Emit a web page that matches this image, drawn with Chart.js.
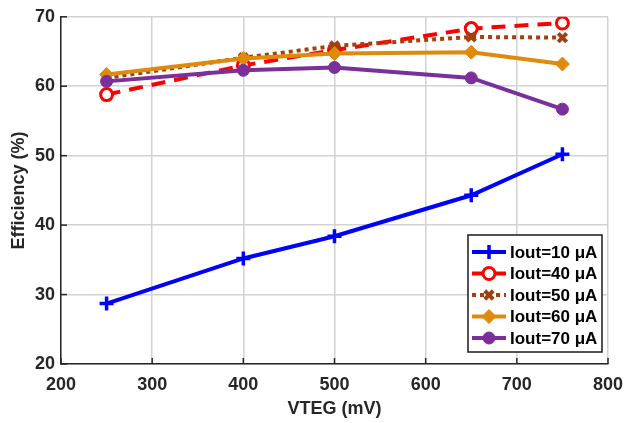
<!DOCTYPE html>
<html>
<head>
<meta charset="utf-8">
<script src="https://cdn.jsdelivr.net/npm/chart.js@4.4.1/dist/chart.umd.min.js"></script>
<style>
  html, body { margin: 0; padding: 0; background: #fff; }
  #wrap { position: relative; width: 626px; height: 423px; }
</style>
</head>
<body>
<div id="wrap"><canvas id="effChart" width="626" height="423"></canvas></div>
<script>
// VTEG sweep (mV)
var vteg = [250, 400, 500, 650, 750];

// efficiency (%) per output current
var eff10 = [28.7, 35.2, 38.4, 44.3, 50.2];
var eff40 = [58.8, 63.0, 65.2, 68.3, 69.1];
var eff50 = [61.2, 64.1, 65.8, 67.1, 67.0];
var eff60 = [61.7, 64.0, 64.7, 64.9, 63.2];
var eff70 = [60.7, 62.3, 62.7, 61.2, 56.7];

var seriesLabels = ['Iout=10 μA', 'Iout=40 μA', 'Iout=50 μA', 'Iout=60 μA', 'Iout=70 μA'];

var xTicks = [200, 300, 400, 500, 600, 700, 800];
var yTicks = [20, 30, 40, 50, 60, 70];

var FONT = '"Liberation Sans", Arial, sans-serif';
var INK = '#262626';

function toPoints(values) {
    return vteg.map(function(v, i) { return { x: v, y: values[i] }; });
}

var styles = [
    { color: '#0000ff', dash: [], point: 'cross', radius: 7, pbw: 3.5, fill: '#0000ff' },
    { color: '#ff0000', dash: [14, 9], point: 'circle', radius: 6, pbw: 3, fill: '#ffffff' },
    { color: '#a0410f', dash: [4, 4], point: 'crossRot', radius: 6, pbw: 4, fill: '#a0410f' },
    { color: '#e08a0c', dash: [], point: 'rectRot', radius: 7, pbw: 1, fill: '#e08a0c' },
    { color: '#7b2f9a', dash: [], point: 'circle', radius: 6, pbw: 1, fill: '#7b2f9a' }
];

var allValues = [eff10, eff40, eff50, eff60, eff70];

var datasets = allValues.map(function(vals, i) {
    var s = styles[i];
    return {
        label: seriesLabels[i],
        data: toPoints(vals),
        borderColor: s.color,
        backgroundColor: s.fill,
        borderWidth: 4,
        borderDash: s.dash,
        pointStyle: s.point,
        pointRadius: s.radius,
        pointBorderWidth: s.pbw,
        pointBorderColor: s.color,
        pointBackgroundColor: s.fill,
        tension: 0,
        order: 5 - i
    };
});

// legend inside the axes, plus inward tick marks (matlab style)
var insideLegend = {
    id: 'insideLegend',
    afterDraw: function(chart) {
        var ctx = chart.ctx;
        var area = chart.chartArea;
        var xs = chart.scales.x, ys = chart.scales.y;

        ctx.save();
        ctx.strokeStyle = INK;
        ctx.lineWidth = 1.5;
        xTicks.forEach(function(t) {
            var px = xs.getPixelForValue(t);
            ctx.beginPath();
            ctx.moveTo(px, area.bottom);
            ctx.lineTo(px, area.bottom - 6);
            ctx.stroke();
        });
        yTicks.forEach(function(t) {
            var py = ys.getPixelForValue(t);
            ctx.beginPath();
            ctx.moveTo(area.left, py);
            ctx.lineTo(area.left + 6, py);
            ctx.stroke();
        });

        var bx = 468, by = 235, bw = 134, bh = 117;
        ctx.fillStyle = '#ffffff';
        ctx.fillRect(bx, by, bw, bh);
        ctx.strokeStyle = '#1a1a1a';
        ctx.lineWidth = 1.5;
        ctx.strokeRect(bx, by, bw, bh);

        ctx.font = 'bold 17px ' + FONT;
        ctx.textBaseline = 'middle';
        ctx.textAlign = 'left';
        datasets.forEach(function(ds, i) {
            var ry = by + 17 + i * 21.5;
            ctx.save();
            ctx.strokeStyle = ds.borderColor;
            ctx.lineWidth = 4;
            ctx.setLineDash(ds.borderDash);
            ctx.beginPath();
            ctx.moveTo(bx + 4, ry);
            ctx.lineTo(bx + 38, ry);
            ctx.stroke();
            ctx.restore();
            ctx.save();
            ctx.strokeStyle = ds.pointBorderColor;
            ctx.fillStyle = ds.pointBackgroundColor;
            ctx.lineWidth = ds.pointBorderWidth;
            Chart.helpers.drawPoint(ctx, {
                pointStyle: ds.pointStyle,
                radius: ds.pointRadius,
                rotation: 0,
                borderWidth: ds.pointBorderWidth
            }, bx + 21, ry);
            ctx.restore();
            ctx.fillStyle = '#000';
            ctx.fillText(ds.label, bx + 42, ry + 1);
        });
        ctx.restore();
    }
};

var canvas = document.getElementById('effChart');
new Chart(canvas.getContext('2d'), {
    type: 'line',
    data: { datasets: datasets },
    options: {
        responsive: false,
        animation: false,
        layout: { padding: { top: 12, right: 18, left: 0, bottom: 0 } },
        plugins: {
            legend: { display: false },
            tooltip: { enabled: false }
        },
        scales: {
            x: {
                type: 'linear',
                min: 200,
                max: 800,
                afterBuildTicks: function(axis) {
                    axis.ticks = xTicks.map(function(v) { return { value: v }; });
                },
                afterFit: function(axis) {
                    axis.height = 59;
                    axis.paddingLeft = 0;
                    axis.paddingRight = 0;
                },
                grid: { color: '#d2d2d2', lineWidth: 1.5, drawTicks: false },
                border: { color: INK, width: 1.5 },
                ticks: {
                    color: INK,
                    padding: 10,
                    font: { family: FONT, size: 18, weight: 'bold' }
                },
                title: {
                    display: true,
                    text: 'VTEG (mV)',
                    color: INK,
                    padding: { top: 2, bottom: 3 },
                    font: { family: FONT, size: 18, weight: 'bold' }
                }
            },
            y: {
                min: 20,
                max: 70,
                afterBuildTicks: function(axis) {
                    axis.ticks = yTicks.map(function(v) { return { value: v }; });
                },
                afterFit: function(axis) { axis.width = 61; },
                grid: { color: '#d2d2d2', lineWidth: 1.5, drawTicks: false },
                border: { color: INK, width: 1.5 },
                ticks: {
                    color: INK,
                    padding: 6,
                    font: { family: FONT, size: 18, weight: 'bold' }
                },
                title: {
                    display: true,
                    text: 'Efficiency (%)',
                    color: INK,
                    padding: { top: 8, bottom: 4 },
                    font: { family: FONT, size: 18, weight: 'bold' }
                }
            }
        }
    },
    plugins: [insideLegend]
});
</script>
</body>
</html>
